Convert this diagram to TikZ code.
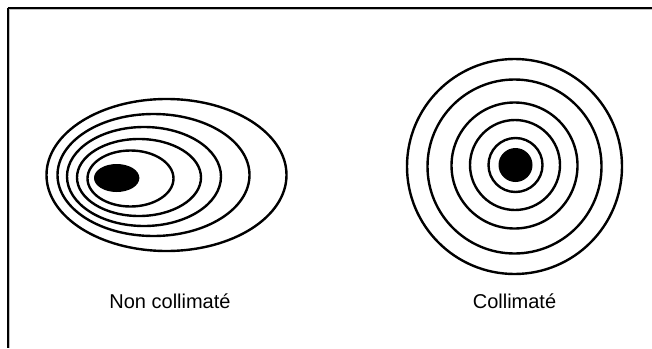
\documentclass[tikz,border=0pt]{standalone}
\usepackage{fontspec}
\setmainfont{Liberation Sans}
\begin{document}
\begin{tikzpicture}[x=1pt,y=-1pt,
  ring/.style={draw=black,line width=2.4pt},
  core/.style={fill=black},
  label/.style={font=\fontsize{20}{23}\selectfont,inner sep=0pt,anchor=base}]
\useasboundingbox (0,0) rectangle (652,348);
% frame
\draw[gray!50,line width=1pt] (9,9.5) -- (652,9.5);
\draw[gray!50,line width=1pt] (9.5,9) -- (9.5,348);
\draw[black,line width=1.3pt] (7.5,8) -- (652,8);
\draw[black,line width=1.3pt] (8,7.5) -- (8,348);
% non collimated
\draw[ring] (166.5,175) ellipse [x radius=120, y radius=76];
\draw[ring] (153.5,175) ellipse [x radius=96, y radius=61];
\draw[ring] (144,176.5) ellipse [x radius=77, y radius=49.5];
\draw[ring] (139,177.5) ellipse [x radius=62, y radius=38.5];
\draw[ring] (130.5,178.5) ellipse [x radius=43, y radius=28];
\fill[core] (116.7,178) ellipse [x radius=22.7, y radius=14];
% collimated
\draw[ring] (514.5,166.5) circle [radius=107.5];
\draw[ring] (514.5,166.5) circle [radius=87];
\draw[ring] (514.5,165.5) circle [radius=63];
\draw[ring] (515,165) circle [radius=45];
\draw[ring] (515.5,165) circle [radius=27];
\fill[core] (515.5,165) circle [radius=17];
% labels
\node[label] (nc) at (170,308.5) {Non collimaté};
\node[label] (c) at (514.5,308.5) {Collimaté};
\end{tikzpicture}
\end{document}
